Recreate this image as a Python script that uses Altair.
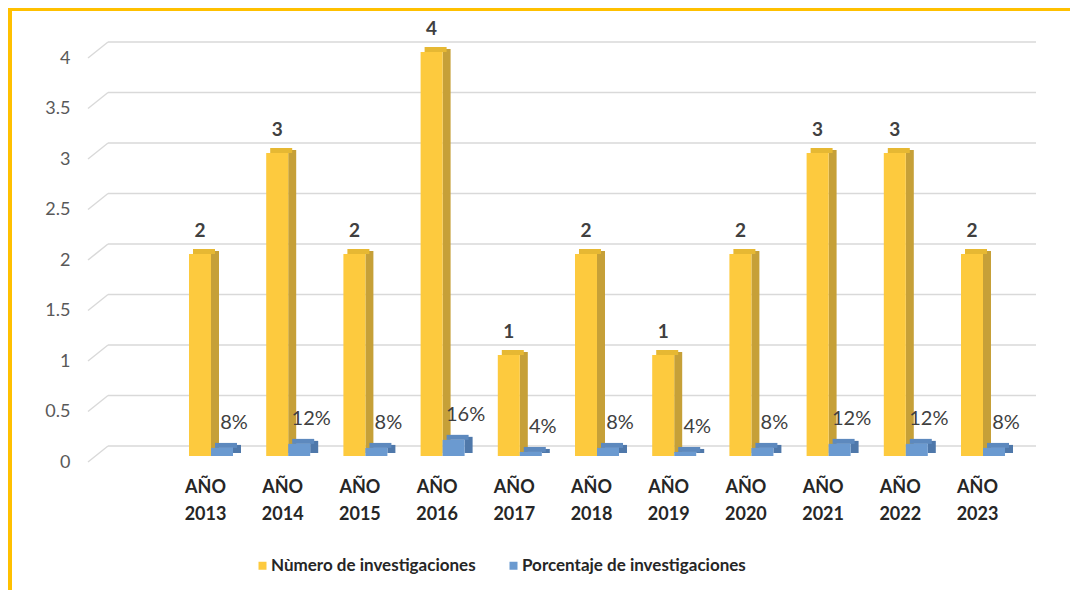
import altair as alt
import pandas as pd

years = ["AÑO 2013", "AÑO 2014", "AÑO 2015", "AÑO 2016", "AÑO 2017", "AÑO 2018",
         "AÑO 2019", "AÑO 2020", "AÑO 2021", "AÑO 2022", "AÑO 2023"]
numero = [2, 3, 2, 4, 1, 2, 1, 2, 3, 3, 2]
porcentaje = [8, 12, 8, 16, 4, 8, 4, 8, 12, 12, 8]
series = ["Nùmero de investigaciones", "Porcentaje de investigaciones"]
y_ticks = [0, 0.5, 1, 1.5, 2, 2.5, 3, 3.5, 4]

df = pd.DataFrame({
    "year": years,
    "n": numero,
    "p": [v / 100 for v in porcentaje],
    "plabel": [f"{v}%" for v in porcentaje],
    "s1": series[0],
    "s2": series[1],
})
grid = pd.DataFrame({"v": y_ticks})

W, H = 948, 404
FONT = "Lato"

Y_FRONT = "#FDCA3E"
Y_SIDE = "#C6A038"
Y_TOP = "#E6B833"
B_FRONT = "#6B9AD0"
B_SIDE = "#4F78AA"
B_TOP = "#5D89BE"

yscale = alt.Scale(domain=[0, 4], nice=False, zero=True)
xscale = alt.Scale(type="point", domain=years, range=[117, 889], padding=0)

yax = alt.Axis(values=y_ticks, format=".1~f", grid=False, domain=False, ticks=False,
               labelPadding=18, labelOffset=6, labelFont=FONT, labelFontSize=18,
               labelColor="#595959", title=None)
xax = alt.Axis(labelExpr="split(datum.label, ' ')", grid=False, domain=False, ticks=False,
               labelPadding=22, labelFont=FONT, labelFontSize=18, labelFontWeight="bold",
               labelColor="#262626", labelLineHeight=27, labelAngle=0, title=None)

base = alt.Chart(df).encode(x=alt.X("year:N", sort=years, scale=xscale, axis=xax))

# gridlines (3D: diagonal + back plane)
g = alt.Chart(grid)
grid_diag = g.mark_rule(color="#D9D9D9", strokeWidth=1.5, yOffset=6, y2Offset=-10).encode(
    x=alt.value(0), x2=alt.value(20),
    y=alt.Y("v:Q", scale=yscale, axis=yax), y2=alt.Y2("v:Q"))
grid_back = g.mark_rule(color="#D9D9D9", strokeWidth=1.5, yOffset=-10).encode(
    x=alt.value(20), x2=alt.value(W), y=alt.Y("v:Q", scale=yscale, axis=yax))

y_side = base.mark_bar(width=8, xOffset=10, yOffset=-3, y2Offset=-3, color=Y_SIDE).encode(
    y=alt.Y("n:Q", scale=yscale, axis=yax))
y_top = base.mark_bar(width=22, xOffset=-1, yOffset=-5, color=Y_TOP).encode(
    y=alt.Y("n:Q", scale=yscale, axis=yax), y2=alt.Y2("n:Q"))
y_front = base.mark_bar(width=22, xOffset=-5).encode(
    y=alt.Y("n:Q", scale=yscale, axis=yax),
    color=alt.Color("s1:N", scale=alt.Scale(domain=series, range=[Y_FRONT, B_FRONT]),
                    legend=alt.Legend(title=None)))

b_side = base.mark_bar(width=8, xOffset=32, yOffset=-3, y2Offset=-3, color=B_SIDE).encode(
    y=alt.Y("p:Q", scale=yscale, axis=yax))
b_top = base.mark_bar(width=22, xOffset=21, yOffset=-5, color=B_TOP).encode(
    y=alt.Y("p:Q", scale=yscale, axis=yax), y2=alt.Y2("p:Q"))
b_front = base.mark_bar(width=22, xOffset=17).encode(
    y=alt.Y("p:Q", scale=yscale, axis=yax),
    color=alt.Color("s2:N", scale=alt.Scale(domain=series, range=[Y_FRONT, B_FRONT]),
                    legend=alt.Legend(title=None)))

n_text = base.mark_text(dy=-23, dx=-5, font=FONT, fontSize=19, fontWeight="bold",
                        color="#404040", baseline="middle").encode(
    y=alt.Y("n:Q", scale=yscale, axis=yax), text="n:Q")
p_text = base.mark_text(dy=-25, dx=29, font=FONT, fontSize=20,
                        color="#404040", baseline="middle").encode(
    y=alt.Y("p:Q", scale=yscale, axis=yax), text="plabel:N")

border_left = alt.Chart(grid).mark_rule(color="#FFC000", strokeWidth=4).encode(
    x=alt.value(-78.5), y=alt.value(-46), y2=alt.value(H + 200))
border_top = alt.Chart(grid).mark_rule(color="#FFC000", strokeWidth=4).encode(
    x=alt.value(-80.5), x2=alt.value(W + 60), y=alt.value(-43))

chart = alt.layer(
    border_left, border_top, grid_diag, grid_back,
    y_side, y_top, y_front, b_side, b_top, b_front, n_text, p_text
).resolve_scale(color="shared").properties(
    width=W, height=H,
    autosize=alt.AutoSizeParams(type="none"),
    padding={"left": 80, "top": 44, "right": 34, "bottom": 134},
    background="white",
).configure_view(stroke=None).configure_legend(
    orient="none", legendX=166, legendY=505, direction="horizontal",
    symbolType="square", symbolSize=64, symbolStrokeWidth=0, labelFont=FONT,
    labelFontSize=17, labelFontWeight="bold", labelColor="#262626", labelLimit=0,
    columnPadding=29, labelOffset=0, padding=0
)

chart.save("out.html", embed_options={"renderer": "svg", "actions": False})
